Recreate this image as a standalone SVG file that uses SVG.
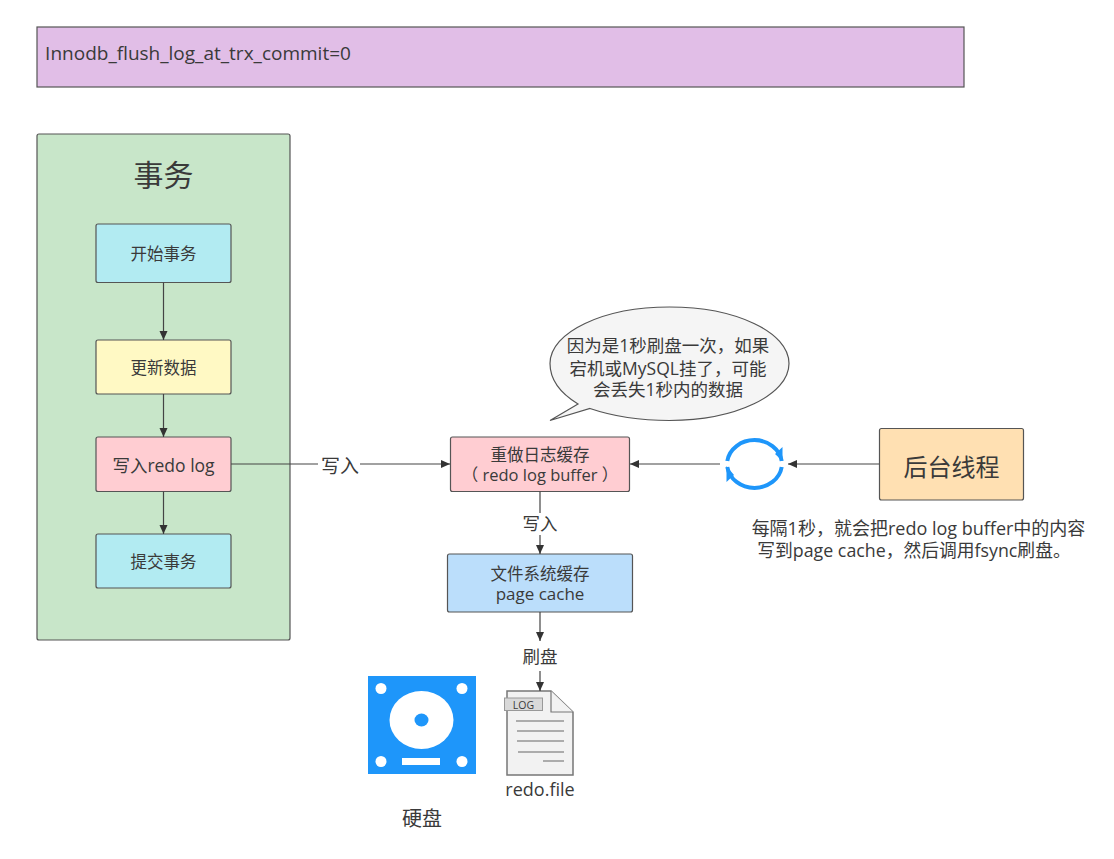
<svg xmlns="http://www.w3.org/2000/svg" width="1114" height="859" viewBox="0 0 1114 859">
<style>
text{font-family:"Open Sans","Noto Sans CJK SC",sans-serif;fill:#3a3a3a;text-anchor:middle}
.n{stroke:#555;stroke-width:1.2}
.c{fill:none;stroke:#444;stroke-width:1.2;marker-end:url(#a)}
.w{fill:#fff}
.l{stroke:#666;stroke-width:1.2;fill:none}
.b{fill:none;stroke:#1e96fa;stroke-width:4}
.f{fill:#1e96fa}
</style>
<defs><marker id="a" markerUnits="userSpaceOnUse" markerWidth="10" markerHeight="10" refX="9" refY="4" orient="auto"><path d="M0 0L9 4L0 8Z" fill="#333"/></marker></defs>
<rect width="1114" height="859" fill="#fff"/>
<g id="title"><rect class="n" x="37" y="27" width="927" height="60" fill="#e1bee7"/><text x="198" y="60" font-size="19">Innodb_flush_log_at_trx_commit=0</text></g>
<g id="tx"><rect class="n" x="37" y="134" width="253" height="506" rx="2" fill="#c8e6c9"/><text x="163.500" y="186" font-size="30">事务</text></g>
<g id="begin"><rect class="n" x="96" y="224" width="135" height="58.500" rx="2" fill="#b2ebf2"/><text x="163.500" y="259.500" font-size="16.500">开始事务</text></g>
<g id="update"><rect class="n" x="96" y="340" width="135" height="54" rx="2" fill="#fff9c4"/><text x="163.500" y="373.500" font-size="16.500">更新数据</text></g>
<g id="write"><rect class="n" x="96" y="437" width="135" height="54.500" rx="2" fill="#ffcdd2"/><text x="163.500" y="472" font-size="17.500">写入redo log</text></g>
<g id="commit"><rect class="n" x="96" y="534" width="135" height="54" rx="2" fill="#b2ebf2"/><text x="163.500" y="568" font-size="16.500">提交事务</text></g>
<g id="buffer"><rect class="n" x="450.500" y="437" width="179" height="54.500" rx="2" fill="#ffcdd2"/><text x="540" y="461" font-size="16.500">重做日志缓存</text><text x="540" y="481" font-size="16.500">（ redo log buffer ）</text></g>
<g id="cache"><rect class="n" x="447.500" y="554" width="185" height="58" rx="2" fill="#bbdefb"/><text x="540" y="580" font-size="16.500">文件系统缓存</text><text x="540" y="600" font-size="17">page cache</text></g>
<g id="thread"><rect class="n" x="879.500" y="428.500" width="144" height="71.500" rx="2" fill="#ffe0b2"/><text x="951.500" y="476" font-size="24">后台线程</text></g>
<g id="bubble"><path class="n" d="M590 408.500C615 417 640 420.500 669.500 420.500C735.500 420.500 789 395 789 363.500C789 332 735.500 307 669.500 307C603.500 307 550 332 550 363.500C550 379 560 393 578 404L550 420.500Z" fill="#f5f5f5"/><text x="668" y="352" font-size="17.500">因为是1秒刷盘一次，如果</text><text x="668" y="374.500" font-size="17.500">宕机或MySQL挂了，可能</text><text x="668" y="396" font-size="17.500">会丢失1秒内的数据</text></g>
<g id="sync"><path class="b" d="M727.300 461A27.500 24.500 0 0 1 781.700 461M781.700 467A27.500 24.500 0 0 1 727.300 467"/><path class="f" d="M775 454L782.500 447L782.500 461ZM734 475L726.500 466L726.500 482Z"/></g>
<g id="disk"><rect x="368" y="676" width="108" height="98" class="f"/><circle class="w" cx="381" cy="688.500" r="5.500"/><circle class="w" cx="462" cy="688.500" r="5.500"/><circle class="w" cx="381" cy="761.500" r="5.500"/><circle class="w" cx="462" cy="761.500" r="5.500"/><ellipse class="w" cx="421.500" cy="720" rx="32" ry="29"/><ellipse class="f" cx="421.500" cy="720" rx="7" ry="6.500"/><rect class="w" x="402" y="758" width="38" height="7"/><text x="422" y="826" font-size="20">硬盘</text></g>
<g id="file"><path d="M507 691H551L573 712V775H507Z" fill="#f2f2f2" stroke="#777" stroke-width="1.500"/><path d="M551 691V712H573" fill="#f2f2f2" stroke="#777" stroke-width="1.200"/><rect x="504.500" y="698" width="38" height="12.500" fill="#d9d9d9" stroke="#999"/><text x="523.500" y="709" font-size="10.500">LOG</text><path class="l" d="M516 721H564M517 731H564M517 741H564M518 752H564M543 761H564"/><text x="540" y="796" font-size="18">redo.file</text></g>
<g id="connectors"><path class="c" d="M163.500 282.500V340"/><path class="c" d="M163.500 394V437"/><path class="c" d="M163.500 491.500V534"/><path class="c" d="M231 464H450"/><path class="c" d="M720 464H630"/><path class="c" d="M879 464H788"/><path class="c" d="M540 491.500V554"/><path class="c" d="M540 612V641"/><path class="c" d="M540 671V691"/></g>
<g id="labels"><rect x="318" y="454" width="42" height="22" class="w"/><text x="340" y="473" font-size="19">写入</text><rect x="520" y="513" width="40" height="22" class="w"/><text x="540" y="530" font-size="17.500">写入</text><text x="540" y="663" font-size="17.500">刷盘</text><text x="918.500" y="535" font-size="18">每隔1秒，就会把redo log buffer中的内容</text><text x="914" y="557" font-size="17.800">写到page cache，然后调用fsync刷盘。</text></g>
</svg>
